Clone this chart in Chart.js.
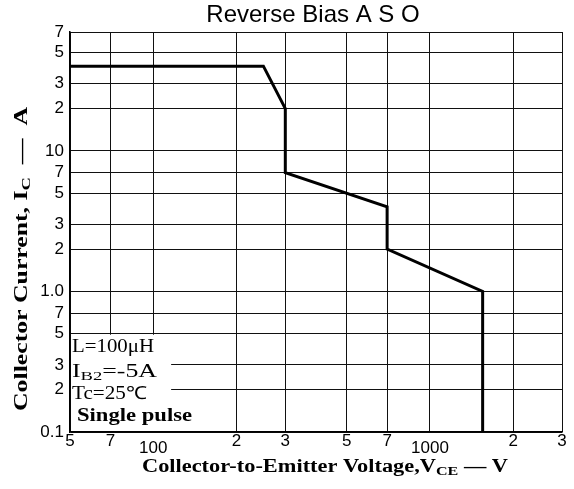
<!DOCTYPE html>
<html>
<head>
<meta charset="utf-8">
<script src="https://cdn.jsdelivr.net/npm/chart.js@4"></script>
<style>
  html, body { margin: 0; padding: 0; background: #fff; }
  #wrap { width: 574px; height: 489px; }
</style>
</head>
<body>
<div id="wrap"><canvas id="grafico" width="574" height="489"></canvas></div>
<script>
// data
const vceValues = [50, 250, 300, 300, 700, 700, 1550, 1550];
const icValues = [40, 40, 20, 7, 4, 2, 1, 0.1];

const xTicks = [50, 70, 100, 200, 300, 500, 700, 1000, 2000, 3000];
const xTickLabels = ['5', '7', '100', '2', '3', '5', '7', '1000', '2', '3'];
const yTicks = [0.1, 0.2, 0.3, 0.5, 0.7, 1, 2, 3, 5, 7, 10, 20, 30, 50, 70];
const yTickLabels = ['0.1', '2', '3', '5', '7', '1.0', '2', '3', '5', '7', '10', '2', '3', '5', '7'];

const notes = ['L=100μH', 'I|B2|=-5A', 'Tc=25℃', 'Single pulse'];

const sans = '"Liberation Sans", Arial, sans-serif';
const serif = '"Liberation Serif", serif';

// draws "main|sub|rest" starting at x, stretched to width w (if given)
function drawSub(ctx, str, x, y, size, bold, w, align) {
  const parts = str.split('|');
  const f = (s) => (bold ? 'bold ' : '') + s + 'px ' + serif;
  const widths = parts.map((p, i) => {
    ctx.font = f(i === 1 ? size * 0.72 : size);
    return ctx.measureText(p).width;
  });
  const total = widths.reduce((a, b) => a + b, 0);
  const sx = w ? w / total : 1;
  const left = align === 'center' ? x - total * sx / 2 : x;
  ctx.save();
  ctx.translate(left, y);
  ctx.scale(sx, 1);
  let cx = 0;
  parts.forEach((p, i) => {
    ctx.font = f(i === 1 ? size * 0.72 : size);
    ctx.fillText(p, cx, i === 1 ? size * 0.25 : 0);
    cx += widths[i];
  });
  ctx.restore();
}

const extras = {
  id: 'extras',
  beforeDatasetsDraw(chart) {
    const { ctx, chartArea, scales } = chart;
    // white box behind the condition notes
    const bx = scales.x.getPixelForValue(116);
    const by = scales.y.getPixelForValue(0.5);
    ctx.save();
    ctx.fillStyle = '#fff';
    ctx.fillRect(chartArea.left + 1, by + 1, bx - chartArea.left - 1, chartArea.bottom - by - 2);
    ctx.fillStyle = '#000';
    ctx.textBaseline = 'middle';
    ctx.textAlign = 'left';
    const lx = chartArea.left + 2;
    const rows = [347, 372, 394, 416];
    const widths = [82, 85, 75, 115];
    notes.forEach((n, i) => {
      drawSub(ctx, n, lx + (i === 3 ? 5 : 0), rows[i], 18, i === 3, widths[i]);
    });
    ctx.restore();
  },
  afterDraw(chart) {
    const { ctx } = chart;
    ctx.save();
    ctx.fillStyle = '#000';
    ctx.textBaseline = 'middle';
    // title
    ctx.font = '24px ' + sans;
    ctx.textAlign = 'center';
    ctx.fillText('Reverse Bias A S O', 313, 15);
    ctx.textAlign = 'left';
    // x axis title
    drawSub(ctx, 'Collector-to-Emitter Voltage,V|CE| — V', 325, 467, 18, true, 366, 'center');
    // y axis title
    ctx.translate(22, 259);
    ctx.rotate(-Math.PI / 2);
    drawSub(ctx, 'Collector Current, I|C|  —  A', 0, 0, 18, true, 304, 'center');
    ctx.restore();
  }
};

const ctx = document.getElementById('grafico').getContext('2d');
new Chart(ctx, {
  type: 'scatter',
  data: {
    datasets: [{
      data: vceValues.map((v, i) => ({ x: v, y: icValues[i] })),
      showLine: true,
      borderColor: '#000',
      borderWidth: 3,
      pointRadius: 0,
      fill: false,
    }]
  },
  options: {
    responsive: false,
    animation: false,
    layout: { padding: { top: 32, right: 12, left: 0, bottom: 0 } },
    plugins: {
      legend: { display: false },
      tooltip: { enabled: false }
    },
    scales: {
      x: {
        type: 'logarithmic',
        min: 50,
        max: 3000,
        afterBuildTicks: (s) => { s.ticks = xTicks.map(v => ({ value: v })); },
        afterFit: (s) => { s.height = 57; },
        ticks: {
          autoSkip: false,
          maxRotation: 0,
          padding: 6,
          color: '#000',
          font: { family: sans, size: 17, lineHeight: 0.4 },
          callback: (v, i) => (xTickLabels[i].length > 1 ? ['', xTickLabels[i]] : xTickLabels[i])
        },
        grid: { color: '#111', lineWidth: 1, drawTicks: false },
        border: { color: '#000', width: 1.5 }
      },
      y: {
        type: 'logarithmic',
        min: 0.1,
        max: 70,
        afterBuildTicks: (s) => { s.ticks = yTicks.map(v => ({ value: v })); },
        afterFit: (s) => { s.width = 70; },
        ticks: {
          autoSkip: false,
          padding: 6,
          color: '#000',
          font: { family: sans, size: 17 },
          callback: (v, i) => yTickLabels[i]
        },
        grid: { color: '#111', lineWidth: 1, drawTicks: false },
        border: { color: '#000', width: 1.5 }
      }
    }
  },
  plugins: [extras]
});
</script>
</body>
</html>
